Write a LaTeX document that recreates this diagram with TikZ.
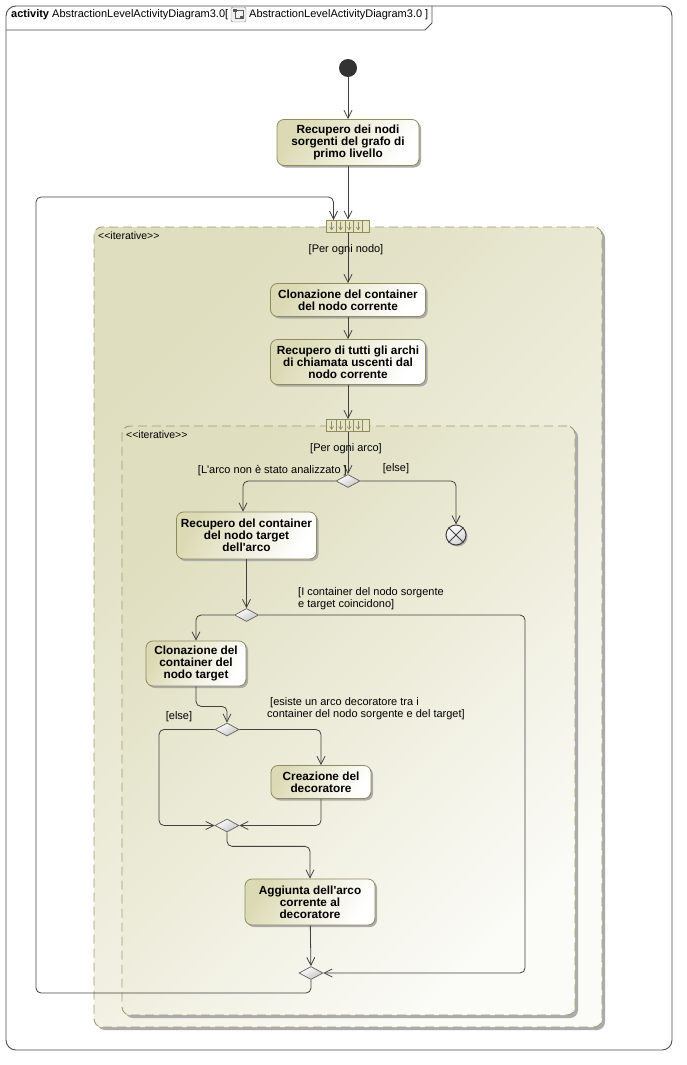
\documentclass[tikz,border=0pt]{standalone}
\usepackage{fontspec}
\setmainfont{Liberation Sans}[Ligatures=TeXOff]
\usetikzlibrary{shapes.geometric,arrows.meta,shadows}

\definecolor{frameline}{HTML}{4D4D4D}
\definecolor{regtop}{HTML}{DFDEBF}
\definecolor{regbot}{HTML}{FBFBF7}
\definecolor{regline}{HTML}{A09C6E}
\definecolor{actleft}{HTML}{DCDAB4}
\definecolor{actline}{HTML}{8E8B5E}
\definecolor{flowline}{HTML}{404040}
\definecolor{shadowgray}{HTML}{ABABAB}
\definecolor{diagray}{HTML}{C4C4C4}
\definecolor{startfill}{HTML}{333333}
\definecolor{pinfill}{HTML}{E6E5C8}

\begin{document}
\begin{tikzpicture}[x=1pt,y=-1pt,
  every node/.style={font=\fontsize{11}{12}\selectfont},
  frame/.style={draw=frameline,line width=0.9pt},
  region/.style={draw=regline,line width=0.9pt,dash pattern=on 9pt off 5pt,
    rounded corners=8pt,inner sep=0pt,
    top color=regtop,bottom color=regbot,shading angle=45,
    drop shadow={shadow xshift=3pt,shadow yshift=-3pt,fill=shadowgray,opacity=1}},
  action/.style={draw=actline,line width=0.8pt,rounded corners=7pt,inner sep=0pt,
    left color=actleft,right color=white,shading angle=60,align=center,
    font=\bfseries\fontsize{11.8}{12}\selectfont,
    drop shadow={shadow xshift=2pt,shadow yshift=-2pt,fill=shadowgray,opacity=1}},
  decision/.style={diamond,draw=gray!75!black,line width=0.7pt,inner sep=0pt,
    minimum width=24pt,minimum height=13pt,
    top color=white,bottom color=diagray,shading angle=30},
  startnode/.style={circle,fill=startfill,inner sep=0pt,minimum size=18pt},
  finalnode/.style={circle,draw=flowline,line width=1pt,inner sep=0pt,minimum size=20pt,
    top color=white,bottom color=gray!35,shading angle=30,
    drop shadow={shadow xshift=1.5pt,shadow yshift=-1.5pt,fill=shadowgray,opacity=1}},
  pinbox/.style={rectangle,draw=actline,line width=0.8pt,fill=pinfill,inner sep=0pt,
    minimum width=43pt,minimum height=12pt},
  flow/.style={draw=flowline,line width=0.8pt,rounded corners=5pt,
    -{Straight Barb[length=8pt,width=8pt]}},
  guard/.style={inner sep=0pt,font=\fontsize{11}{12}\selectfont},
  stereo/.style={inner sep=0pt,anchor=west,font=\fontsize{10.5}{12}\selectfont},
]
\useasboundingbox (0,0) rectangle (687,1065);

% diagram frame and its header tab
\draw[frame,rounded corners=10pt] (6,6) rectangle (672,1050);
\draw[frame] (6,30) -- (425,30) -- (432,23) -- (432,6);
\node[anchor=west,inner sep=0pt] (hdrA) at (11,15)
  {\textbf{activity} AbstractionLevelActivityDiagram3.0[};
\node[rectangle,draw=gray,fill=gray!12,rounded corners=1.5pt,inner sep=0pt,
  minimum width=15pt,minimum height=15pt] (hdrIcon) at (238.5,14.5) {};
\fill[gray!70!black] ([xshift=2pt,yshift=-2.5pt]hdrIcon.north west) rectangle ++(4,3);
\draw[gray!70!black,line width=0.6pt]
  ([xshift=6pt,yshift=-4pt]hdrIcon.north west) -- ++(6,0) -- ++(0,5)
  ([xshift=4pt,yshift=-5.5pt]hdrIcon.north west) -- ++(0,6) -- ++(5,0);
\fill[gray!70!black] ([xshift=9pt,yshift=3pt]hdrIcon.south west) rectangle ++(4,-3);
\node[anchor=west,inner sep=0pt] (hdrB) at (249,15)
  {AbstractionLevelActivityDiagram3.0 ]};

% expansion regions
\node[region,minimum width=508pt,minimum height=800pt] (outerReg) at (348,627) {};
\node[stereo] (outerSt) at (98,236) {\textless\textless iterative\textgreater\textgreater};
\node[region,minimum width=453pt,minimum height=589pt] (innerReg) at (348.5,720.5) {};
\node[stereo] (innerSt) at (126,435) {\textless\textless iterative\textgreater\textgreater};

% activity nodes
\node[startnode] (start) at (348,68) {};
\node[action,minimum width=142pt,minimum height=46pt] (act1) at (348,142.5)
  {Recupero dei nodi\\sorgenti del grafo di\\primo livello};
\node[pinbox] (pinA) at (348,226) {};
\node[action,minimum width=155pt,minimum height=33pt] (act2) at (348,300)
  {Clonazione del container\\del nodo corrente};
\node[action,minimum width=155pt,minimum height=45pt] (act3) at (348,362)
  {Recupero di tutti gli archi\\di chiamata uscenti dal\\nodo corrente};
\node[pinbox] (pinB) at (348,425.5) {};
\node[decision] (d1) at (348,481) {};
\node[finalnode] (ff) at (456,535) {};
\draw[flowline,line width=1pt] (ff.north west) -- (ff.south east) (ff.north east) -- (ff.south west);
\node[action,minimum width=140pt,minimum height=47pt] (act4) at (246.5,535.5)
  {Recupero del container\\del nodo target\\dell'arco};
\node[decision] (d2) at (246.5,615) {};
\node[action,minimum width=100pt,minimum height=45pt] (act5) at (196,663.5)
  {Clonazione del\\container del\\nodo target};
\node[decision] (d3) at (227,729.5) {};
\node[action,minimum width=100pt,minimum height=33pt] (act6) at (321,782)
  {Creazione del\\decoratore};
\node[decision] (m3) at (227,825.5) {};
\node[action,minimum width=130pt,minimum height=46pt] (act7) at (310,902)
  {Aggiunta dell'arco\\corrente al\\decoratore};
\node[decision] (m4) at (311,973) {};

% cells of the expansion pins
\foreach \p in {pinA,pinB}{
  \foreach \dx in {10.5,19,27.5,36}
    \draw[actline,line width=0.7pt] ([xshift=\dx pt]\p.north west) -- ([xshift=\dx pt]\p.south west);
  \foreach \ax in {5.5,14.5,23,32}
    \draw[actline,line width=0.6pt,-{Straight Barb[length=3pt,width=4pt]}]
      ([xshift=\ax pt,yshift=-2pt]\p.north west) -- ([xshift=\ax pt,yshift=2pt]\p.south west);
}

% bend points of the longer connectors
\coordinate (loopBL) at (36,993);
\coordinate (loopTL) at (36,197);
\coordinate (pinAin) at (333.5,220);
\coordinate (rightRun) at (525,800);
\coordinate (leftRun) at (159,780);

% control flows
\draw[flow] (start) -- (act1);
\draw[flow] (act1) -- (pinA);
\draw[flow] (m4.south) |- (loopBL) -- (loopTL) -| (pinAin);
\draw[flow] (pinA) -- (act2);
\draw[flow] (act2) -- (act3);
\draw[flow] (act3) -- (pinB);
\draw[flow] (pinB) -- (d1);
\draw[flow] (d1.west) -| ([xshift=-3.5pt]act4.north);
\draw[flow] (d1.east) -| (ff.north);
\draw[flow] (act4.south) -- (d2.north);
\draw[flow] (d2.west) -| (act5.north);
\draw[flow] (d2.east) -| (rightRun) |- (m4.east);
\draw[flow] (act5.south) -- ++(0,20) -| (d3.north);
\draw[flow] (d3.west) -| (leftRun) |- (m3.west);
\draw[flow] (d3.east) -| (act6.north);
\draw[flow] (act6.south) |- (m3.east);
\draw[flow] (m3.south) -- ++(0,14) -| (act7.north);
\draw[flow] (act7) -- (m4);

% guards
\node[guard] (gNodo) at (346,250) {[Per ogni nodo]};
\node[guard] (gArco) at (346,449) {[Per ogni arco]};
\node[guard,anchor=east] (gNon) at (347,471) {[L'arco non è stato analizzato ]};
\node[guard] (gElse1) at (396,469) {[else]};
\node[guard,anchor=north west,align=left] (gCoinc) at (298,587)
  {[I container del nodo sorgente\\e target coincidono]};
\node[guard] (gElse2) at (179,717) {[else]};
\node[guard,anchor=north west,align=left] (gEsiste) at (267,697)
  {\hspace*{3pt}[esiste un arco decoratore tra i\\container del nodo sorgente e del target]};
\end{tikzpicture}
\end{document}
